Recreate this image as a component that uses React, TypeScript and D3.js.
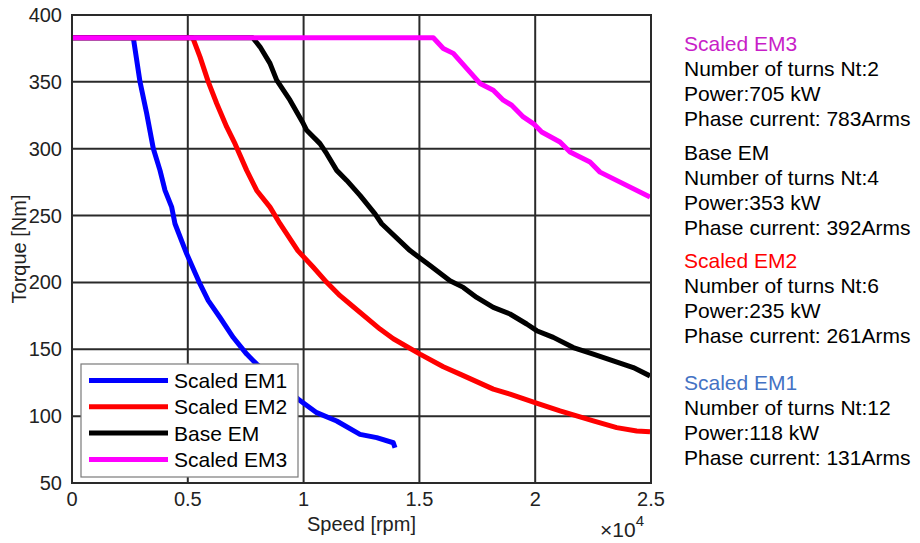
import React from "react";
import * as d3 from "d3";

// ---- data (speed in rpm, torque in Nm) ----
const em1Speed = [0, 2647, 2936, 3225, 3510, 3800, 4016, 4305, 4447, 4952, 5527, 5885, 6390, 6965, 7543, 7975, 8981, 9771, 10566, 11429, 12435, 13156, 13873, 13946];
const em1Torque = [383, 383, 350, 326.3, 300.1, 283.8, 268.8, 256.3, 243.9, 221.4, 198.9, 186.4, 173.8, 158.8, 146.4, 138.9, 124.1, 112.7, 102.6, 96.4, 86.4, 83.9, 80.1, 76.4];

const em2Speed = [0, 5211, 5527, 5885, 6248, 6680, 7038, 7543, 7975, 8549, 8981, 9750, 10419, 10997, 11572, 12003, 13299, 13873, 15026, 16032, 16753, 18191, 18912, 19991, 21071, 22509, 23519, 24383, 24957];
const em2Torque = [383, 383, 368.7, 350, 333.8, 316.3, 303.8, 283.8, 268.8, 256.3, 243.9, 223.8, 211.3, 200.1, 190.1, 183.9, 165.1, 157.9, 146.4, 136.9, 131.4, 120.2, 116.4, 110.1, 103.9, 96.4, 91.4, 88.9, 88.4];

const baseSpeed = [0, 7802, 8117, 8549, 8838, 9413, 9987, 10134, 10708, 10997, 11429, 11861, 12435, 13083, 13372, 14594, 15458, 16321, 16896, 17474, 18191, 18912, 19633, 20065, 20782, 21645, 22509, 23372, 24236, 24957];
const baseTorque = [383, 383, 376.2, 363.8, 351.3, 336.3, 318.8, 313.8, 303.8, 296.3, 283.8, 276.3, 265.1, 251.3, 243.9, 223.8, 212.6, 201.3, 196.3, 188.8, 181.3, 176.4, 168.9, 163.9, 158.9, 151.3, 146.4, 141.4, 136.3, 130.1];

const em3Speed = [0, 15600, 16032, 16464, 17617, 18191, 18623, 18986, 19486, 19918, 20281, 21071, 21503, 22366, 22798, 24957];
const em3Torque = [383, 383, 375, 371.3, 348.8, 343.8, 336.3, 332.5, 323.8, 318.8, 312.5, 305, 297.5, 290, 282.5, 263.8];

const seriesNames = ["Scaled EM1", "Scaled EM2", "Base EM", "Scaled EM3"];
const seriesColors = ["#0000ff", "#ff0000", "#000000", "#ff00ff"];
const seriesSpeeds = [em1Speed, em2Speed, baseSpeed, em3Speed];
const seriesTorques = [em1Torque, em2Torque, baseTorque, em3Torque];

const xTicks = [0, 5000, 10000, 15000, 20000, 25000];
const yTicks = [50, 100, 150, 200, 250, 300, 350, 400];

const noteTitles = ["Scaled EM3", "Base EM", "Scaled EM2", "Scaled EM1"];
const noteTitleColors = ["#c81ec8", "#000000", "#ff0000", "#4472c4"];
const noteTurns = ["Number of turns Nt:2", "Number of turns Nt:4", "Number of turns Nt:6", "Number of turns Nt:12"];
const notePower = ["Power:705 kW", "Power:353 kW", "Power:235 kW", "Power:118 kW"];
const noteCurrent = ["Phase current: 783Arms", "Phase current: 392Arms", "Phase current: 261Arms", "Phase current: 131Arms"];
const noteTops = [51, 160, 268, 390];

const W = 920;
const H = 543;
const M = { left: 72, right: 651, top: 15, bottom: 483 };
const FONT = "Liberation Sans, Arial, sans-serif";

export default function App() {
  const x = d3.scaleLinear().domain([0, 25000]).range([M.left, M.right]);
  const y = d3.scaleLinear().domain([50, 400]).range([M.bottom, M.top]);
  const line = d3
    .line<[number, number]>()
    .x((d) => x(d[0]))
    .y((d) => y(d[1]));

  const gridColor = "#2a2a2a";

  const legendX = 81;
  const legendY = 364;
  const legendW = 217;
  const legendH = 113;
  const rowH = 26.3;

  return (
    <svg
      width={W}
      height={H}
      style={{ position: "absolute", left: 0, top: 0, background: "#fff" }}
      fontFamily={FONT}
    >
      <defs>
        <clipPath id="plotClip">
          <rect x={M.left} y={M.top} width={M.right - M.left} height={M.bottom - M.top} />
        </clipPath>
      </defs>
      <rect x={0} y={0} width={W} height={H} fill="#fff" />

      {/* grid */}
      {xTicks.map((t) => (
        <line key={"gx" + t} x1={x(t)} x2={x(t)} y1={M.top} y2={M.bottom} stroke={gridColor} strokeWidth={2} />
      ))}
      {yTicks.map((t) => (
        <line key={"gy" + t} x1={M.left} x2={M.right} y1={y(t)} y2={y(t)} stroke={gridColor} strokeWidth={2} />
      ))}

      {/* curves */}
      <g clipPath="url(#plotClip)">
        {seriesNames.map((name, i) => {
          const pts: [number, number][] = seriesSpeeds[i].map((s, k) => [s, seriesTorques[i][k]]);
          return (
            <path
              key={name}
              d={line(pts) || ""}
              fill="none"
              stroke={seriesColors[i]}
              strokeWidth={5}
              strokeLinejoin="round"
            />
          );
        })}
      </g>

      {/* frame */}
      <rect
        x={M.left}
        y={M.top}
        width={M.right - M.left}
        height={M.bottom - M.top}
        fill="none"
        stroke={gridColor}
        strokeWidth={2}
      />

      {/* tick labels */}
      {xTicks.map((t) => (
        <text key={"tx" + t} x={x(t)} y={506} fontSize={20} textAnchor="middle" fill="#222">
          {String(t / 10000)}
        </text>
      ))}
      {yTicks.map((t) => (
        <text key={"ty" + t} x={62} y={y(t) + 7} fontSize={20} textAnchor="end" fill="#222">
          {String(t)}
        </text>
      ))}

      {/* axis titles */}
      <text x={(M.left + M.right) / 2} y={531} fontSize={20} textAnchor="middle" fill="#222">
        Speed [rpm]
      </text>
      <text
        transform={`translate(26, ${(M.top + M.bottom) / 2}) rotate(-90)`}
        fontSize={20}
        textAnchor="middle"
        fill="#222"
      >
        Torque [Nm]
      </text>
      <text x={600} y={537} fontSize={21} fill="#222">
        <tspan fontSize={21}>×</tspan>
        <tspan>10</tspan>
        <tspan dy={-11} fontSize={15}>4</tspan>
      </text>

      {/* legend */}
      <rect x={legendX} y={legendY} width={legendW} height={legendH} fill="#fff" stroke="#7a7a7a" strokeWidth={1.2} />
      {seriesNames.map((name, i) => {
        const cy = legendY + 16.5 + i * rowH;
        return (
          <g key={"lg" + name}>
            <line x1={89} x2={168} y1={cy} y2={cy} stroke={seriesColors[i]} strokeWidth={5} />
            <text x={174} y={cy + 7.5} fontSize={21} fill="#000">
              {name}
            </text>
          </g>
        );
      })}

      {/* annotations */}
      {noteTitles.map((t, i) => (
        <g key={"note" + t} fontSize={21}>
          <text x={684} y={noteTops[i]} fill={noteTitleColors[i]}>{t}</text>
          <text x={684} y={noteTops[i] + 25} fill="#000">{noteTurns[i]}</text>
          <text x={684} y={noteTops[i] + 50} fill="#000">{notePower[i]}</text>
          <text x={684} y={noteTops[i] + 75} fill="#000">{noteCurrent[i]}</text>
        </g>
      ))}
    </svg>
  );
}
